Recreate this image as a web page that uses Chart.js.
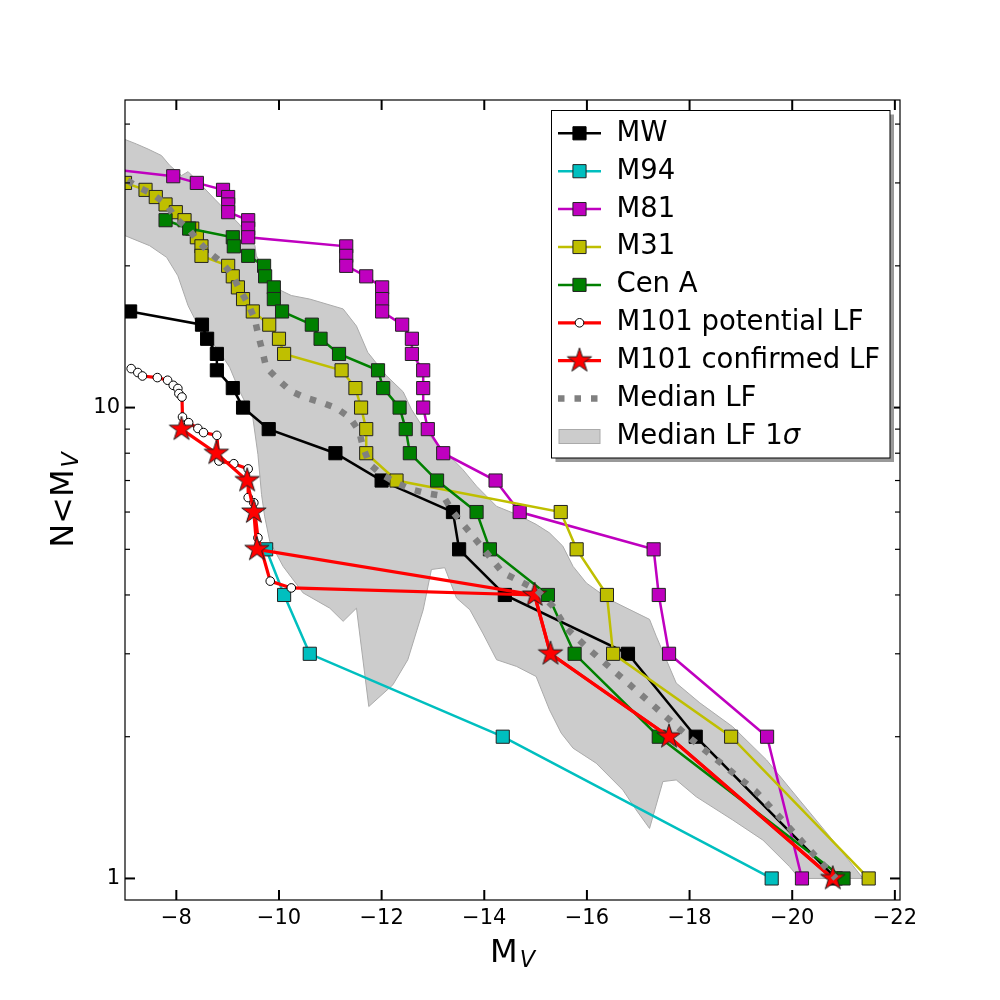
<!DOCTYPE html>
<html>
<head>
<meta charset="utf-8">
<script src="https://cdn.jsdelivr.net/npm/chart.js@4.4.0/dist/chart.umd.min.js"></script>
<style>
  html, body { margin: 0; padding: 0; background: #fff; }
</style>
</head>
<body>
<canvas id="lfChart" width="1000" height="1000"></canvas>
<script>
// tick values
const xTicks = [-8, -10, -12, -14, -16, -18, -20, -22];
const yMajorTicks = [1, 10];
const yMinorTicks = [2, 3, 4, 5, 6, 7, 8, 9, 20, 30, 40];

// cumulative luminosity functions (M_V, N<M_V)
const mwMag = [-7.10, -8.50, -8.60, -8.79, -8.79, -9.10, -9.30, -9.80, -11.10, -12.00, -13.39, -13.51, -14.40, -16.80, -18.12, -20.85];
const mwN = [16, 15, 14, 13, 12, 11, 10, 9, 8, 7, 6, 5, 4, 3, 2, 1];

const m94Mag = [-9.75, -10.10, -10.60, -14.36, -19.60];
const m94N = [5, 4, 3, 2, 1];

const m81Mag = [-6.80, -7.94, -8.40, -8.91, -9.01, -9.01, -9.01, -9.40, -9.40, -9.40, -11.31, -11.31, -11.31, -11.70, -12.01, -12.01,
                -12.01, -12.40, -12.59, -12.59, -12.81, -12.81, -12.81, -12.90, -13.20, -14.22, -14.69, -17.30, -17.40, -17.60, -19.51, -20.19];
const m81N = [32, 31, 30, 29, 28, 27, 26, 25, 24, 23, 22, 21, 20, 19, 18, 17, 16, 15, 14, 13, 12, 11, 10, 9, 8, 7, 6, 5, 4, 3, 2, 1];

const m31Mag = [-7.00, -7.40, -7.60, -7.79, -7.99, -8.16, -8.31, -8.40, -8.49, -8.49, -9.01, -9.10, -9.20, -9.30, -9.49,
                -9.81, -10.00, -10.10, -11.22, -11.49, -11.60, -11.70, -11.70, -12.29, -15.49, -15.80, -16.39, -16.51, -18.81, -21.49];
const m31N = [30, 29, 28, 27, 26, 25, 24, 23, 22, 21, 20, 19, 18, 17, 16, 15, 14, 13, 12, 11, 10, 9, 8, 7, 6, 5, 4, 3, 2, 1];

const cenAMag = [-7.79, -8.25, -9.10, -9.12, -9.40, -9.71, -9.73, -9.90, -9.90, -10.06, -10.64, -10.81, -11.17,
                 -11.93, -12.03, -12.35, -12.47, -12.55, -13.08, -13.85, -14.11, -15.24, -15.76, -17.40, -21.00];
const cenAN = [25, 24, 23, 22, 21, 20, 19, 18, 17, 16, 15, 14, 13, 12, 11, 10, 9, 8, 7, 6, 5, 4, 3, 2, 1];

const m101PotMag = [-7.12, -7.25, -7.34, -7.63, -7.83, -7.94, -8.03, -8.05, -8.11, -8.12, -8.24, -8.42, -8.53,
                    -8.79, -8.83, -9.12, -9.40, -9.40, -9.51, -9.59, -9.83, -10.24, -14.98, -15.29, -17.60, -20.79];
const m101PotN = [12.1, 11.87, 11.67, 11.58, 11.43, 11.15, 10.98, 10.71, 10.53, 9.55, 9.29, 9.03, 8.85,
                  8.73, 7.70, 7.60, 7.41, 6.44, 6.28, 5.29, 4.28, 4.14, 4.0, 3.0, 2.0, 1.0];

const m101ConfMag = [-8.10, -8.78, -9.38, -9.51, -9.57, -14.98, -15.29, -17.60, -20.79];
const m101ConfN = [9, 8, 7, 6, 5, 4, 3, 2, 1];

const medianMag = [-7.05, -7.25, -7.54, -7.81, -7.99, -8.23, -8.42, -8.63, -8.89, -9.09, -9.23, -9.40, -9.53, -9.60,
                   -9.68, -9.75, -9.98, -10.22, -10.51, -10.83, -11.12, -11.38, -11.56, -11.64, -11.77, -12.00, -12.29,
                   -12.58, -12.90, -13.20, -13.39, -13.78, -14.36, -14.69, -15.01, -15.34, -15.60, -16.05, -16.80, -18.00, -19.30, -20.85];
const medianN = [30.35, 29.4, 28.4, 27.0, 25.2, 24.0, 22.6, 21.4, 20.3, 19.15, 17.85, 16.6, 15.4, 14.2,
                 13.15, 12.17, 11.48, 10.85, 10.5, 10.25, 9.97, 9.52, 8.92, 8.22, 7.57, 7.21, 6.92,
                 6.70, 6.57, 6.49, 6.0, 5.33, 4.46, 4.28, 4.11, 3.78, 3.40, 3.06, 2.60, 1.99, 1.528, 1.0];

// 1 sigma band: upper edge (faint -> bright), lower edge (bright -> faint)
const bandUpperMag = [-7.00, -7.22, -7.45, -7.71, -7.87, -8.10, -8.23, -8.46, -8.75, -9.23, -9.53, -9.56, -9.79, -10.05,
                      -10.24, -10.60, -11.25, -11.51, -11.73, -12.09, -12.42, -12.58, -12.87, -13.26, -13.58, -13.85, -14.24,
                      -14.63, -15.01, -15.27, -15.53, -15.73, -15.99, -16.44, -17.22, -17.35, -17.74, -18.20, -18.84, -19.50,
                      -20.14, -20.79, -21.38];
const bandUpperN = [37.1, 36.3, 35.4, 34.3, 32.7, 31.1, 31.7, 29.9, 27.7, 24.5, 22.1, 21.0, 18.9, 17.7,
                    17.3, 17.0, 16.2, 14.9, 13.1, 11.7, 10.8, 9.92, 8.85, 8.02, 7.39, 6.81, 6.17,
                    5.93, 5.65, 5.42, 5.08, 4.60, 4.24, 3.91, 3.55, 3.27, 2.60, 2.36, 2.10, 1.785,
                    1.468, 1.206, 1.0];
const bandLowerMag = [-20.14, -19.95, -19.43, -18.84, -18.13, -17.74, -17.48, -17.22, -16.96, -16.70, -16.18, -15.73,
                      -15.50, -15.27, -15.01, -14.63, -14.24, -13.97, -13.72, -13.46, -13.23, -12.97, -12.81, -12.51,
                      -12.22, -11.75, -11.51, -11.25, -10.99, -10.47, -10.08, -9.82, -9.72, -9.66, -9.59, -9.49,
                      -9.23, -9.04, -8.81, -8.46, -8.23, -8.03, -7.81, -7.48, -7.00];
const bandLowerN = [1.0, 1.059, 1.206, 1.331, 1.491, 1.619, 1.606, 1.277, 1.398, 1.541, 1.757, 1.891,
                    2.035, 2.281, 2.685, 2.82, 2.914, 3.32, 3.72, 3.94, 4.57, 4.53, 3.72, 2.914,
                    2.578, 2.318, 3.75, 3.516, 3.75, 4.04, 4.60, 5.20, 5.88, 6.54, 7.95, 9.52,
                    10.85, 12.17, 13.3, 14.68, 16.45, 19.05, 20.85, 22.07, 23.18];

const FONT = '"DejaVu Sans", sans-serif';
Chart.defaults.font.family = FONT;
Chart.defaults.color = '#000';

function toPoints(mags, counts) {
    return mags.map((m, i) => ({ x: m, y: counts[i] }));
}

function makeStar(radius, fill, edge) {
    const size = Math.ceil(radius * 2 + 4);
    const c = document.createElement('canvas');
    c.width = size;
    c.height = size;
    const g = c.getContext('2d');
    g.translate(size / 2, size / 2);
    g.beginPath();
    for (let i = 0; i < 10; i++) {
        const r = i % 2 === 0 ? radius : radius * 0.382;
        const a = -Math.PI / 2 + i * Math.PI / 5;
        g.lineTo(r * Math.cos(a), r * Math.sin(a));
    }
    g.closePath();
    g.fillStyle = fill;
    g.fill();
    g.lineWidth = 1;
    g.strokeStyle = edge;
    g.stroke();
    return c;
}

const starImg = makeStar(12.8, '#ff0000', '#222222');

function squareSeries(label, mags, counts, color, order, edge) {
    return {
        label,
        data: toPoints(mags, counts),
        borderColor: color,
        backgroundColor: color,
        borderWidth: 2.5,
        pointStyle: 'rect',
        pointRadius: 9.3,
        pointBackgroundColor: color,
        pointBorderColor: edge || '#222222',
        pointBorderWidth: 1,
        fill: false,
        clip: 0,
        order
    };
}

const datasets = [
    squareSeries('MW', mwMag, mwN, '#000000', 9, '#000000'),
    squareSeries('M94', m94Mag, m94N, '#00bfbf', 8),
    squareSeries('M81', m81Mag, m81N, '#bf00bf', 7),
    squareSeries('M31', m31Mag, m31N, '#bfbf00', 6),
    squareSeries('Cen A', cenAMag, cenAN, '#008000', 5),
    {
        label: 'M101 potential LF',
        data: toPoints(m101PotMag, m101PotN),
        borderColor: '#ff0000',
        backgroundColor: '#ffffff',
        borderWidth: 3.2,
        pointStyle: 'circle',
        pointRadius: 4.3,
        pointBackgroundColor: '#ffffff',
        pointBorderColor: '#000000',
        pointBorderWidth: 1,
        fill: false,
        clip: 0,
        order: 4
    },
    {
        label: 'M101 confirmed LF',
        data: toPoints(m101ConfMag, m101ConfN),
        borderColor: '#ff0000',
        backgroundColor: '#ff0000',
        borderWidth: 3.2,
        pointStyle: starImg,
        pointRadius: 12,
        fill: false,
        clip: 0,
        order: 3
    },
    {
        label: 'Median LF',
        data: toPoints(medianMag, medianN),
        borderColor: '#808080',
        borderWidth: 6.5,
        borderDash: [6.5, 10],
        borderCapStyle: 'butt',
        pointRadius: 0,
        fill: false,
        clip: 0,
        order: 0
    },
    {
        label: 'Median LF 1σ',
        data: toPoints(bandUpperMag.concat(bandLowerMag), bandUpperN.concat(bandLowerN)),
        borderColor: '#aaaaaa',
        backgroundColor: '#cccccc',
        borderWidth: 1,
        pointRadius: 0,
        fill: 'shape',
        clip: 0,
        order: 20
    }
];

// frame + inward ticks on all four sides
const framePlugin = {
    id: 'frameTicks',
    afterDatasetsDraw(chart) {
        const { ctx, chartArea: a, scales: { x, y } } = chart;
        ctx.save();
        ctx.strokeStyle = '#000';
        const seg = (x1, y1, x2, y2, w) => {
            ctx.lineWidth = w;
            ctx.beginPath();
            ctx.moveTo(x1, y1);
            ctx.lineTo(x2, y2);
            ctx.stroke();
        };
        xTicks.forEach(v => {
            const px = x.getPixelForValue(v);
            seg(px, a.bottom, px, a.bottom - 10, 2);
            seg(px, a.top, px, a.top + 10, 2);
        });
        yMajorTicks.forEach(v => {
            const py = y.getPixelForValue(v);
            seg(a.left, py, a.left + 10, py, 2);
            seg(a.right, py, a.right - 10, py, 2);
        });
        yMinorTicks.forEach(v => {
            const py = y.getPixelForValue(v);
            seg(a.left, py, a.left + 5, py, 1.2);
            seg(a.right, py, a.right - 5, py, 1.2);
        });
        ctx.lineWidth = 1.2;
        ctx.strokeRect(a.left, a.top, a.right - a.left, a.bottom - a.top);
        ctx.restore();
    }
};

function drawMathLabel(ctx, main, sub, cx, baseY, size) {
    ctx.font = `${size}px ${FONT}`;
    const wMain = ctx.measureText(main).width;
    ctx.font = `italic ${size * 0.7}px ${FONT}`;
    const wSub = ctx.measureText(sub).width;
    const start = cx - (wMain + wSub + 2) / 2;
    ctx.textAlign = 'left';
    ctx.textBaseline = 'alphabetic';
    ctx.font = `${size}px ${FONT}`;
    ctx.fillText(main, start, baseY);
    ctx.font = `italic ${size * 0.7}px ${FONT}`;
    ctx.fillText(sub, start + wMain + 2, baseY + 5);
}

const titlePlugin = {
    id: 'axisTitles',
    afterDraw(chart) {
        const { ctx, chartArea: a } = chart;
        ctx.save();
        ctx.fillStyle = '#000';
        drawMathLabel(ctx, 'M', 'V', (a.left + a.right) / 2, 961.7, 32);
        ctx.translate(73.3, (a.top + a.bottom) / 2);
        ctx.rotate(-Math.PI / 2);
        drawMathLabel(ctx, 'N<M', 'V', 0, 0, 32);
        ctx.restore();
    }
};

function drawHandleMarker(ctx, ds, x, y) {
    const style = ds.pointStyle;
    if (style instanceof HTMLCanvasElement) {
        ctx.drawImage(style, x - style.width / 2, y - style.height / 2);
        return;
    }
    if (!ds.pointRadius) return;
    ctx.fillStyle = ds.pointBackgroundColor;
    ctx.strokeStyle = ds.pointBorderColor;
    ctx.lineWidth = ds.pointBorderWidth;
    ctx.setLineDash([]);
    ctx.beginPath();
    if (style === 'rect') {
        const s = ds.pointRadius * Math.SQRT1_2;
        ctx.rect(x - s, y - s, 2 * s, 2 * s);
    } else {
        ctx.arc(x, y, ds.pointRadius, 0, Math.PI * 2);
    }
    ctx.fill();
    ctx.stroke();
}

const legendPlugin = {
    id: 'boxLegend',
    afterDraw(chart) {
        const ctx = chart.ctx;
        const box = { x: 551.5, y: 110.5, w: 338.5, h: 347.5 };
        ctx.save();
        ctx.fillStyle = '#999999';
        ctx.fillRect(box.x + 4, box.y + 4, box.w, box.h);
        ctx.fillStyle = '#ffffff';
        ctx.fillRect(box.x, box.y, box.w, box.h);
        ctx.strokeStyle = '#000';
        ctx.lineWidth = 1;
        ctx.strokeRect(box.x, box.y, box.w, box.h);

        chart.data.datasets.forEach((ds, i) => {
            const rowY = 133.3 + i * 37.9;
            if (ds.fill === 'shape') {
                ctx.fillStyle = ds.backgroundColor;
                ctx.strokeStyle = ds.borderColor;
                ctx.lineWidth = 1;
                ctx.fillRect(559, rowY - 7, 41, 14);
                ctx.strokeRect(559, rowY - 7, 41, 14);
            } else {
                ctx.strokeStyle = ds.borderColor;
                ctx.lineWidth = ds.borderWidth;
                ctx.lineCap = 'butt';
                ctx.setLineDash(ds.borderDash || []);
                ctx.beginPath();
                ctx.moveTo(558, rowY);
                ctx.lineTo(601, rowY);
                ctx.stroke();
                ctx.setLineDash([]);
                drawHandleMarker(ctx, ds, 579.5, rowY);
            }
            ctx.fillStyle = '#000';
            ctx.textAlign = 'left';
            ctx.textBaseline = 'alphabetic';
            const label = ds.label;
            if (label.endsWith('σ')) {
                const head = label.slice(0, -1);
                ctx.font = `27.5px ${FONT}`;
                ctx.fillText(head, 616.5, rowY + 7.4);
                const w = ctx.measureText(head).width;
                ctx.font = `italic 27.5px ${FONT}`;
                ctx.fillText('σ', 616.5 + w, rowY + 7.4);
            } else {
                ctx.font = `27.5px ${FONT}`;
                ctx.fillText(label, 616.5, rowY + 7.4);
            }
        });
        ctx.restore();
    }
};

new Chart(document.getElementById('lfChart'), {
    type: 'line',
    data: { datasets },
    options: {
        responsive: false,
        animation: false,
        devicePixelRatio: 1,
        layout: { padding: { top: 100, right: 100, left: 0, bottom: 0 } },
        elements: { line: { tension: 0 } },
        plugins: {
            legend: { display: false },
            tooltip: { enabled: false }
        },
        scales: {
            x: {
                type: 'linear',
                reverse: true,
                min: -22.1,
                max: -7,
                grid: { display: false, drawTicks: false },
                border: { display: false },
                afterBuildTicks: s => { s.ticks = xTicks.map(v => ({ value: v })); },
                afterFit: s => { s.height = 100; },
                ticks: {
                    autoSkip: false,
                    maxRotation: 0,
                    padding: 6,
                    font: { size: 21 },
                    callback: v => '\u2212' + Math.abs(v)
                }
            },
            y: {
                type: 'logarithmic',
                min: 0.9,
                max: 45,
                grid: { display: false, drawTicks: false },
                border: { display: false },
                afterBuildTicks: s => { s.ticks = yMajorTicks.map(v => ({ value: v })); },
                afterFit: s => { s.width = 125; },
                ticks: {
                    autoSkip: false,
                    padding: 5,
                    font: { size: 21 },
                    callback: v => String(v)
                }
            }
        }
    },
    plugins: [framePlugin, titlePlugin, legendPlugin]
});
</script>
</body>
</html>
